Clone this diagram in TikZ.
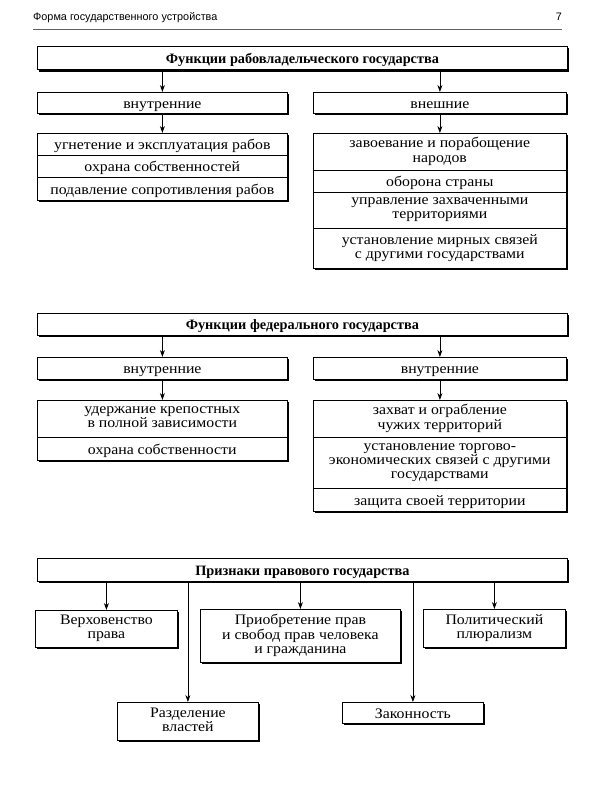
\documentclass[tikz,border=0pt]{standalone}
\usepackage{fontspec}
\setmainfont[FakeStretch=1.09]{Liberation Serif}
\newfontfamily\titlefont[FakeStretch=1.0]{Liberation Serif}
\newfontfamily\hdrfont{Liberation Sans}
\usetikzlibrary{shadows,arrows.meta}
\newcommand{\hiStrut}{\rule[-4pt]{0pt}{19pt}}
\begin{document}
\begin{tikzpicture}[x=1pt,y=-1pt,
  txt/.style={font=\fontsize{14.5}{14.2}\selectfont,execute at begin node=\hiStrut,execute at end node=\hiStrut},
  ml/.style={execute at begin node={\rule{0pt}{#1}}},
  ml/.default=18pt,
  box/.style={txt,draw,line width=0.8pt,fill=white,anchor=north west,inner sep=0pt,align=center,
    drop shadow={shadow xshift=1.6pt,shadow yshift=-1.6pt,fill=black,opacity=1}},
  titlebox/.style={box,font=\titlefont\bfseries\fontsize{14.3}{14.2}\selectfont},
  row/.style={txt,draw,line width=0.6pt,fill=white,anchor=north west,inner sep=0pt,align=center},
  arr/.style={-{Stealth[length=7pt,width=5pt]},line width=0.8pt}]
\useasboundingbox (0,0) rectangle (600,800);
% header
\node[anchor=base west,inner sep=0pt,font=\hdrfont\fontsize{10.85}{12}\selectfont] (hdr) at (33,21) {Форма государственного устройства};
\node[anchor=base east,inner sep=0pt,font=\hdrfont\fontsize{10.85}{12}\selectfont] (pg) at (562,21) {7};
\draw[gray!75!black,line width=1.6pt] (33,29.5) -- (562,29.5);

% ---------- block 1
\node[titlebox,minimum width=530,minimum height=23] (t1) at (37,46.5) {Функции рабовладельческого государства};
\node[box,minimum width=250,minimum height=20.5] (b1l) at (37,92) {внутренние};
\node[box,minimum width=253,minimum height=20.5] (b1r) at (313,92) {внешние};
\node[box,minimum width=250,minimum height=67] (L1) at (37,133) {};
\node[row,minimum width=250,minimum height=22] (l1a) at (37,133) {угнетение и эксплуатация рабов};
\node[row,minimum width=250,minimum height=22] (l1b) at (37,155) {охрана собственностей};
\node[row,minimum width=250,minimum height=23] (l1c) at (37,177) {подавление сопротивления рабов};
\node[box,minimum width=253,minimum height=135] (R1) at (313,133) {};
\node[row,ml,minimum width=253,minimum height=37] (r1a) at (313,133) {завоевание и порабощение\\народов};
\node[row,minimum width=253,minimum height=22] (r1b) at (313,170) {оборона страны};
\node[row,ml=19pt,minimum width=253,minimum height=36] (r1c) at (313,192) {управление захваченными\\территориями};
\node[row,ml=16pt,minimum width=253,minimum height=40] (r1d) at (313,228) {установление мирных связей\\с другими государствами};
\draw[arr] (t1.south -| b1l.north) -- (b1l.north);
\draw[arr] (t1.south -| b1r.north) -- (b1r.north);
\draw[arr] (b1l.south) -- (L1.north);
\draw[arr] (b1r.south) -- (R1.north);

% ---------- block 2
\node[titlebox,minimum width=530,minimum height=22] (t2) at (37,313) {Функции федерального государства};
\node[box,minimum width=250,minimum height=22] (b2l) at (37,357) {внутренние};
\node[box,minimum width=253,minimum height=22] (b2r) at (313,357) {внутренние};
\node[box,minimum width=250,minimum height=60] (L2) at (37,400) {};
\node[row,ml,minimum width=250,minimum height=37] (l2a) at (37,400) {удержание крепостных\\в полной зависимости};
\node[row,minimum width=250,minimum height=23] (l2b) at (37,437) {охрана собственности};
\node[box,minimum width=253,minimum height=111] (R2) at (313,400) {};
\node[row,ml,minimum width=253,minimum height=37] (r2a) at (313,400) {захват и ограбление\\чужих территорий};
\node[row,minimum width=253,minimum height=51] (r2b) at (313,437) {установление торгово-\\экономических связей с другими\\государствами};
\node[row,minimum width=253,minimum height=23] (r2c) at (313,488) {защита своей территории};
\draw[arr] (t2.south -| b2l.north) -- (b2l.north);
\draw[arr] (t2.south -| b2r.north) -- (b2r.north);
\draw[arr] (b2l.south) -- (L2.north);
\draw[arr] (b2r.south) -- (R2.north);

% ---------- block 3
\node[titlebox,minimum width=530,minimum height=23] (t3) at (37,558) {Признаки правового государства};
\node[box,minimum width=142,minimum height=37] (v) at (35,610) {Верховенство\\права};
\node[box,ml=16.5pt,minimum width=200,minimum height=53] (p) at (200,609) {Приобретение прав\\и свобод прав человека\\и гражданина};
\node[box,minimum width=142,minimum height=38] (pl) at (423,609) {Политический\\плюрализм};
\node[box,minimum width=141,minimum height=38] (r) at (117,702) {Разделение\\властей};
\node[box,minimum width=141,minimum height=21] (z) at (342,702) {Законность};
\draw[arr] (t3.south -| v.north) -- (v.north);
\draw[arr] (t3.south -| p.north) -- (p.north);
\draw[arr] (t3.south -| pl.north) -- (pl.north);
\draw[arr] (t3.south -| r.north) -- (r.north);
\draw[arr] (t3.south -| z.north) -- (z.north);
\end{tikzpicture}
\end{document}
